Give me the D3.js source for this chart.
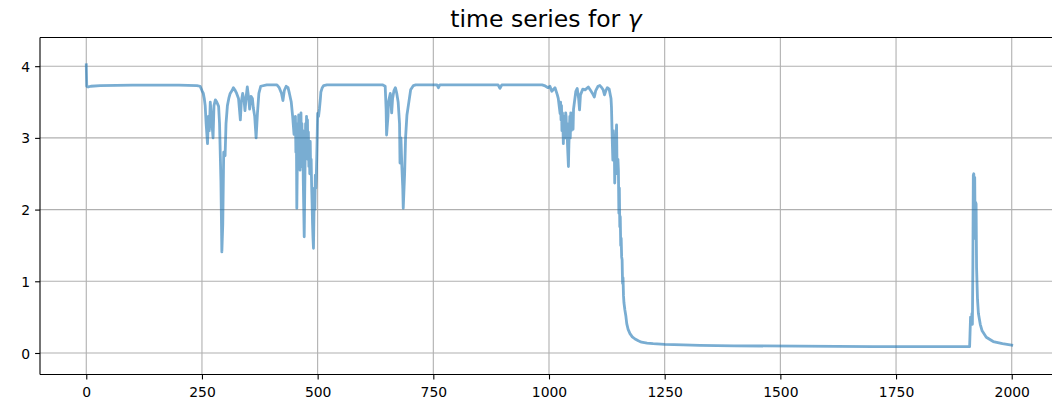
<!DOCTYPE html>
<html>
<head>
<meta charset="utf-8">
<script src="https://cdn.jsdelivr.net/npm/d3@7"></script>
<style>
  html, body { margin: 0; padding: 0; background: #ffffff; overflow: hidden; }
  svg { display: block; font-family: "DejaVu Sans", sans-serif; }
</style>
</head>
<body>
<svg id="chart" width="1052" height="404"></svg>
<script>
// Time steps of the simulation and the recorded value of gamma at each one.
const steps = [
  0, 1, 4, 10, 30, 100, 200, 239, 246, 250, 253, 255, 257, 259, 262, 264, 266, 268, 271, 274,
  276, 279, 282, 286, 288, 291, 293, 295, 297, 300, 302, 305, 308, 311, 315, 318, 322, 325, 329, 333,
  335, 338, 341, 343, 346, 348, 351, 353, 356, 359, 361, 364, 367, 370, 373, 377, 390, 412, 417, 422,
  425, 428, 432, 436, 439, 443, 446, 449, 452, 453, 454, 455, 456, 457, 458, 459,
  460, 461, 462, 463, 464, 465, 466, 467, 468, 469, 470, 471, 472, 473, 474, 475, 476, 477, 478, 479,
  480, 481, 482, 483, 484, 485, 486, 487, 488, 489, 490, 491, 492, 493, 494, 495, 496, 497, 498, 499, 500,
  502, 504, 506, 507, 510, 513, 520, 640, 646,
  648, 649, 652, 653, 657, 660, 662, 665, 668, 671, 674, 677, 678, 680, 682, 684, 685, 688, 690, 693,
  696, 701, 707, 712, 758, 761, 764, 890, 894, 898, 985, 990, 998, 1002, 1006, 1013, 1018, 1020, 1024, 1025,
  1026, 1027, 1028, 1029, 1030, 1031, 1032, 1033, 1034, 1035, 1036, 1037, 1038, 1039, 1040, 1041, 1042, 1043, 1044, 1045,
  1046, 1047, 1048, 1049, 1050, 1051, 1052, 1053, 1055, 1058, 1061, 1064, 1066, 1068, 1073, 1078, 1085, 1090, 1094, 1098,
  1101, 1106, 1110, 1114, 1117, 1120, 1123, 1126, 1130, 1134, 1135, 1137, 1138, 1139, 1140, 1141, 1142, 1143, 1144, 1145,
  1146, 1147, 1148, 1149, 1150, 1151, 1152, 1153, 1154, 1155, 1156, 1157, 1158, 1159, 1160, 1161, 1162, 1164, 1166, 1168,
  1171, 1175, 1180, 1186, 1193, 1200, 1212, 1225, 1250, 1290, 1326, 1400, 1542, 1700, 1909, 1911, 1913, 1914, 1915, 1916,
  1917, 1918, 1919, 1920, 1921, 1922, 1923, 1924, 1926, 1928, 1932, 1936, 1945, 1960, 1980, 2000
];
const gamma = [
  4.02, 3.72, 3.71, 3.72, 3.73, 3.735, 3.735, 3.73, 3.72, 3.66, 3.62, 3.55, 3.45, 3.2, 2.92, 3.3, 3.1, 3.5, 3.25, 3.0,
  3.45, 3.53, 3.5, 3.44, 3.2, 2.4, 1.41, 1.8, 2.8, 2.75, 3.2, 3.45, 3.55, 3.62, 3.66, 3.7, 3.66, 3.62, 3.55, 3.25,
  3.5, 3.62, 3.52, 3.38, 3.6, 3.71, 3.55, 3.4, 3.58, 3.55, 3.42, 3.3, 3.0, 3.35, 3.62, 3.72, 3.74, 3.74, 3.7, 3.62,
  3.52, 3.66, 3.72, 3.7, 3.62, 3.5, 3.3, 3.05, 3.3, 2.8, 3.2, 2.02, 2.6, 3.1, 2.7, 3.32,
  2.9, 3.2, 2.55, 3.0, 3.35, 2.8, 3.2, 2.6, 3.1, 2.4, 2.0, 1.62, 2.2, 2.7, 3.2, 2.8, 3.3, 2.9, 3.25, 2.7,
  3.08, 2.6, 2.9, 2.5, 2.95, 2.5, 2.7, 2.34, 2.1, 1.8, 1.6, 1.46, 1.9, 2.3, 2.0, 2.48, 2.3, 2.45, 2.7, 3.0, 3.34,
  3.3, 3.41, 3.55, 3.64, 3.7, 3.73, 3.74, 3.74, 3.72,
  3.4, 3.04, 3.3, 3.5, 3.62, 3.35, 3.55, 3.66, 3.7, 3.62, 3.5, 3.2, 2.65, 3.0, 2.6, 2.3, 2.02, 2.5, 3.0, 3.32,
  3.45, 3.67, 3.73, 3.74, 3.74, 3.70, 3.74, 3.74, 3.69, 3.74, 3.74, 3.73, 3.7, 3.72, 3.65, 3.7, 3.6, 3.55, 3.34, 3.5,
  3.25, 3.45, 3.1, 3.35, 3.2, 2.92, 3.25, 3.3, 3.0, 3.05, 3.35, 3.3, 3.0, 3.2, 2.9, 2.75, 2.6, 2.9, 3.1, 3.3,
  3.0, 3.35, 3.1, 3.3, 3.15, 3.35, 3.12, 3.4, 3.5, 3.65, 3.69, 3.55, 3.39, 3.6, 3.68, 3.67, 3.71, 3.66, 3.62, 3.57,
  3.66, 3.72, 3.73, 3.7, 3.67, 3.6, 3.66, 3.7, 3.68, 3.55, 3.43, 2.9, 2.69, 3.1, 2.85, 3.0, 2.37, 2.7, 2.5, 3.0,
  3.18, 2.6, 2.5, 2.7, 2.55, 1.95, 2.3, 1.76, 1.9, 1.5, 1.6, 1.34, 1.3, 0.97, 1.05, 0.8, 0.7, 0.6, 0.52, 0.41,
  0.33, 0.27, 0.225, 0.195, 0.17, 0.15, 0.138, 0.13, 0.12, 0.112, 0.107, 0.1, 0.095, 0.09, 0.088, 0.50, 0.42, 0.55, 0.40, 1.2,
  2.48, 2.50, 2.30, 2.45, 1.6, 2.10, 2.08, 1.2, 0.75, 0.55, 0.40, 0.31, 0.22, 0.16, 0.13, 0.11
];

// Axis tick values and the fixed vertical limits.
const xTicks = [0, 250, 500, 750, 1000, 1250, 1500, 1750, 2000];
const yTicks = [0, 1, 2, 3, 4];
const yLimits = [-0.3, 4.4];
const titleText = "time series for ";
const titleSymbol = "γ";

const series = steps.map((t, i) => ({ t, v: gamma[i] }));

const svg = d3.select("#chart");
const plot = { left: 40, right: 1058, top: 37.5, bottom: 374.5 };

// Horizontal limits padded by 5% of the data span on each side.
const [tMin, tMax] = d3.extent(steps);
const pad = (tMax - tMin) * 0.05;
const x = d3.scaleLinear().domain([tMin - pad, tMax + pad]).range([plot.left, plot.right]);
const y = d3.scaleLinear().domain(yLimits).range([plot.bottom, plot.top]);

const gridColor = "#b0b0b0";
const tickLen = 4.9;

// Grid lines
const grid = svg.append("g").attr("class", "grid");
grid.selectAll("line.gx").data(xTicks).join("line")
  .attr("class", "gx")
  .attr("x1", d => x(d)).attr("x2", d => x(d))
  .attr("y1", plot.top).attr("y2", plot.bottom)
  .attr("stroke", gridColor).attr("stroke-width", 1.1);
grid.selectAll("line.gy").data(yTicks).join("line")
  .attr("class", "gy")
  .attr("x1", plot.left).attr("x2", plot.right)
  .attr("y1", d => y(d)).attr("y2", d => y(d))
  .attr("stroke", gridColor).attr("stroke-width", 1.1);

// The gamma trace
const line = d3.line().x(d => x(d.t)).y(d => y(d.v));
svg.append("path")
  .datum(series)
  .attr("d", line)
  .attr("fill", "none")
  .attr("stroke", "#1f77b4")
  .attr("stroke-opacity", 0.6)
  .attr("stroke-width", 2.8)
  .attr("stroke-linejoin", "round")
  .attr("stroke-linecap", "square");

// Axes
const fmt = d3.format("d");
const xAxis = d3.axisBottom(x).tickValues(xTicks).tickFormat(fmt).tickSize(tickLen).tickPadding(7.4).tickSizeOuter(0);
const yAxis = d3.axisLeft(y).tickValues(yTicks).tickFormat(fmt).tickSize(tickLen).tickPadding(4.9).tickSizeOuter(0);

const gx = svg.append("g").attr("transform", `translate(0,${plot.bottom})`).call(xAxis);
const gy = svg.append("g").attr("transform", `translate(${plot.left},0)`).call(yAxis);

[gx, gy].forEach(g => {
  g.select(".domain").remove();
  g.selectAll(".tick line").attr("stroke", "#000").attr("stroke-width", 1.1);
  g.selectAll(".tick text")
    .attr("fill", "#000")
    .style("font-family", "'DejaVu Sans', sans-serif")
    .style("font-size", "13.9px");
});
gy.selectAll(".tick text").attr("dy", "0.36em");

// Frame: left, bottom and top spines
const spines = svg.append("g").attr("stroke", "#000").attr("stroke-width", 1.1);
spines.append("line").attr("x1", plot.left).attr("x2", plot.left).attr("y1", plot.top).attr("y2", plot.bottom);
spines.append("line").attr("x1", plot.left).attr("x2", plot.right).attr("y1", plot.bottom).attr("y2", plot.bottom);
spines.append("line").attr("x1", plot.left).attr("x2", plot.right).attr("y1", plot.top).attr("y2", plot.top);

// Title
const title = svg.append("text")
  .attr("x", (plot.left + plot.right) / 2 - 3)
  .attr("y", 27)
  .attr("text-anchor", "middle")
  .attr("fill", "#000")
  .style("font-family", "'DejaVu Sans', sans-serif")
  .style("font-size", "23.5px")
  .text(titleText);
title.append("tspan").style("font-style", "italic").text(titleSymbol);
</script>
</body>
</html>
